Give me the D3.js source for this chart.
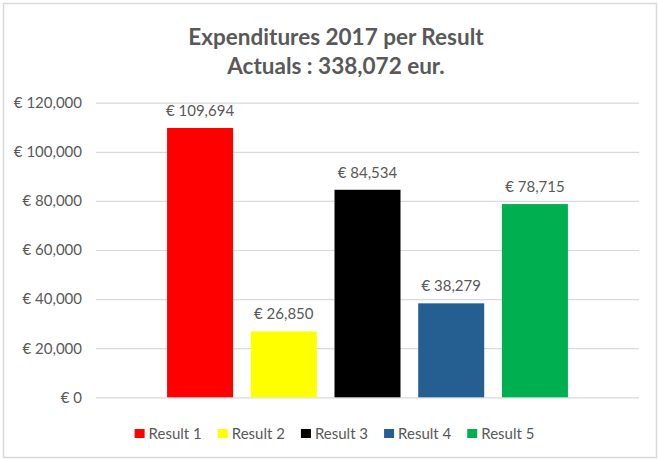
<!DOCTYPE html>
<html>
<head>
<meta charset="utf-8">
<script src="https://cdn.jsdelivr.net/npm/d3@7"></script>
<style>
  body { margin: 0; background: #fff; }
  svg { display: block; font-family: Lato, "Open Sans", sans-serif; }
</style>
</head>
<body>
<div id="viz"></div>
<script>
var results = ['Result 1', 'Result 2', 'Result 3', 'Result 4', 'Result 5'],
    amounts = [109694, 26850, 84534, 38279, 78715],
    colors = ['#FF0000', '#FFFF00', '#000000', '#255E91', '#00B050'],
    yTicks = [0, 20000, 40000, 60000, 80000, 100000, 120000],
    titleLines = ['Expenditures 2017 per Result', 'Actuals : 338,072 eur.'];

var width = 658,
    height = 459,
    plot = { left: 96, right: 639, top: 102.7, bottom: 397.3 };

var euro = function(v) { return '\u20AC ' + d3.format(',')(v); };

var svg = d3.select('#viz').append('svg')
  .attr('width', width)
  .attr('height', height);

// chart frame
svg.append('rect')
  .attr('x', 3.5).attr('y', 3.5)
  .attr('width', 653).attr('height', 454)
  .attr('fill', '#fff')
  .attr('stroke', '#d9d9d9')
  .attr('stroke-width', 1.5);

svg.selectAll('.title').data(titleLines)
  .enter().append('text')
    .attr('class', 'title')
    .attr('x', 336)
    .attr('y', function(d, i) { return 45 + i * 29; })
    .attr('text-anchor', 'middle')
    .attr('font-size', 22.5)
    .attr('font-weight', 'bold')
    .attr('fill', '#595959')
    .text(function(d) { return d; });

var yScale = d3.scaleLinear()
  .domain([0, 120000])
  .range([plot.bottom, plot.top]);

var xScale = d3.scaleBand()
  .domain(results)
  .range([plot.left, plot.right])
  .paddingInner(0.2115)
  .paddingOuter(0.849);

// gridlines + tick labels
var yAxis = d3.axisLeft(yScale)
  .tickValues(yTicks)
  .tickSize(-(plot.right - plot.left))
  .tickPadding(14)
  .tickFormat(euro);

var yGuide = svg.append('g')
  .attr('transform', 'translate(' + plot.left + ',0)')
  .call(yAxis);

yGuide.select('.domain').remove();
yGuide.selectAll('line').attr('stroke', '#d9d9d9').attr('stroke-width', 1.2);
yGuide.selectAll('text')
  .attr('fill', '#595959')
  .attr('font-size', 15)
  .attr('font-family', 'Lato, "Open Sans", sans-serif');

svg.append('g').selectAll('rect').data(amounts)
  .enter().append('rect')
    .attr('x', function(d, i) { return xScale(results[i]); })
    .attr('y', function(d) { return yScale(d); })
    .attr('width', xScale.bandwidth())
    .attr('height', function(d) { return plot.bottom - yScale(d); })
    .attr('fill', function(d, i) { return colors[i]; });

svg.append('g').selectAll('text').data(amounts)
  .enter().append('text')
    .attr('x', function(d, i) { return xScale(results[i]) + xScale.bandwidth() / 2; })
    .attr('y', function(d) { return yScale(d) - 12; })
    .attr('text-anchor', 'middle')
    .attr('font-size', 15)
    .attr('fill', '#595959')
    .text(euro);

// legend
var legend = svg.append('g');
var items = legend.selectAll('g').data(results)
  .enter().append('g');

items.append('rect')
  .attr('y', 429)
  .attr('width', 10)
  .attr('height', 9)
  .attr('fill', function(d, i) { return colors[i]; });

items.append('text')
  .attr('x', 14)
  .attr('y', 438.5)
  .attr('font-size', 15)
  .attr('fill', '#595959')
  .text(function(d) { return d; });

var xPos = 0;
items.each(function() {
  var w = d3.select(this).select('text').node().getComputedTextLength();
  d3.select(this).attr('transform', 'translate(' + xPos + ',0)');
  xPos += 14 + w + 16;
});
var legendWidth = xPos - 16;
legend.attr('transform', 'translate(' + (334.5 - legendWidth / 2) + ',0)');
</script>
</body>
</html>
